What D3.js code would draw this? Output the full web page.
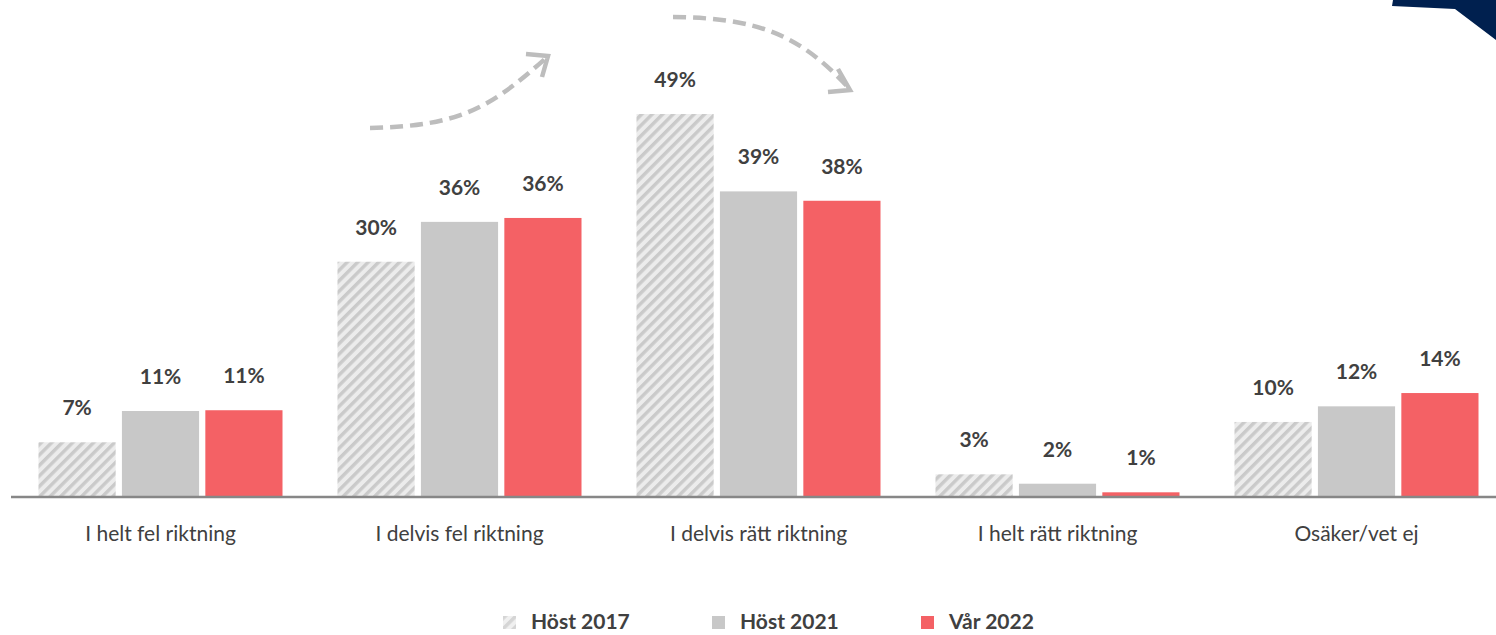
<!DOCTYPE html>
<html lang="sv">
<head>
    <meta charset="UTF-8">
    <title>Riktning</title>
    <script src="https://d3js.org/d3.v7.min.js"></script>
    <style>
        body { margin: 0; background: white; }
    </style>
</head>
<body>
<svg id="main" width="1496" height="635"></svg>
<script>
    // data
    let categories = ["I helt fel riktning", "I delvis fel riktning", "I delvis rätt riktning", "I helt rätt riktning", "Osäker/vet ej"];
    let seriesNames = ["Höst 2017", "Höst 2021", "Vår 2022"];
    let host2017 = [7.0, 30.1, 49.0, 2.9, 9.6];
    let host2021 = [11.0, 35.2, 39.1, 1.7, 11.6];
    let var2022 = [11.1, 35.7, 37.9, 0.6, 13.3];
    let labels2017 = ["7%", "30%", "49%", "3%", "10%"];
    let labels2021 = ["11%", "36%", "39%", "2%", "12%"];
    let labels2022 = ["11%", "36%", "38%", "1%", "14%"];

    let svg = d3.select('svg#main');
    let baseY = 497;
    let textCol = "#404040";
    let fills = ["url(#hatch)", "#c8c8c8", "#f46165"];

    // hatch pattern for 2017
    let defs = svg.append('defs');
    let pat = defs.append('pattern')
        .attr('id', 'hatch')
        .attr('patternUnits', 'userSpaceOnUse')
        .attr('width', 7.4).attr('height', 7.4)
        .attr('patternTransform', 'rotate(45)');
    pat.append('rect').attr('width', 7.4).attr('height', 7.4).attr('fill', '#ececec');
    pat.append('rect').attr('width', 3.4).attr('height', 7.4).attr('fill', '#cacaca');

    let series = [
        {name: seriesNames[0], values: host2017, labels: labels2017},
        {name: seriesNames[1], values: host2021, labels: labels2021},
        {name: seriesNames[2], values: var2022, labels: labels2022}
    ];

    let x = d3.scaleBand().domain(categories).range([11, 1506]).padding(0);
    let xSub = d3.scaleBand().domain(seriesNames).range([0, 244]).paddingInner(0.075).paddingOuter(0);
    let groupOff = (x.bandwidth() - 244) / 2;
    let y = d3.scaleLinear().domain([0, 49]).range([baseY, 114]);

    // bars
    let groups = svg.selectAll('g.series')
        .data(series)
        .enter()
        .append('g')
        .attr('class', 'series');

    groups.each(function (s, si) {
        let g = d3.select(this);
        let rows = categories.map(function (c, i) { return {cat: c, v: s.values[i], lab: s.labels[i]}; });
        g.selectAll('rect')
            .data(rows)
            .enter()
            .append('rect')
            .attr('x', function (d) { return x(d.cat) + groupOff + xSub(s.name); })
            .attr('width', xSub.bandwidth())
            .attr('y', function (d) { return y(d.v); })
            .attr('height', function (d) { return baseY - y(d.v); })
            .attr('fill', fills[si]);
        g.selectAll('text')
            .data(rows)
            .enter()
            .append('text')
            .attr('x', function (d) { return x(d.cat) + groupOff + xSub(s.name) + xSub.bandwidth() / 2; })
            .attr('y', function (d) { return y(d.v) - 27; })
            .attr('text-anchor', 'middle')
            .style('font-family', 'Lato, sans-serif')
            .style('font-weight', 'bold')
            .style('font-size', '21px')
            .style('fill', textCol)
            .text(function (d) { return d.lab; });
    });

    // x axis
    let xAxis = svg.append('g')
        .attr('transform', 'translate(0,' + baseY + ')')
        .call(d3.axisBottom(x).tickSize(0).tickPadding(29));
    xAxis.select('.domain').attr('d', 'M11,0H1496').attr('stroke', '#878787').attr('stroke-width', 2.5);
    xAxis.selectAll('text')
        .style('font-family', 'Lato, sans-serif')
        .style('font-size', '21px')
        .style('fill', textCol);

    // legend
    let legend = svg.append('g').attr('transform', 'translate(503,616)');
    let li = legend.selectAll('g')
        .data(seriesNames)
        .enter()
        .append('g')
        .attr('transform', function (d, i) { return 'translate(' + (i * 209) + ',0)'; });
    li.append('rect').attr('width', 13).attr('height', 13)
        .attr('fill', function (d, i) { return fills[i]; })
        .attr('opacity', function (d, i) { return i === 0 ? 0.8 : 1; });
    li.append('text')
        .attr('x', 28).attr('y', 13)
        .style('font-family', 'Lato, sans-serif')
        .style('font-weight', 'bold')
        .style('font-size', '21px')
        .style('fill', textCol)
        .text(function (d) { return d; });

    // dashed trend arrows between the groups
    let c2 = x(categories[1]), c3 = x(categories[2]);
    let ann = svg.append('g')
        .style('fill', 'none')
        .style('stroke', '#bdbdbd')
        .style('stroke-width', 4.5);
    ann.append('path')
        .attr('d', 'M' + (c2 + 60) + ',128 C' + (c2 + 150) + ',126 ' + (c2 + 180) + ',108 ' + (c2 + 236) + ',58')
        .style('stroke-dasharray', '13,7');
    ann.append('path')
        .attr('d', 'M' + (c2 + 216) + ',54 L' + (c2 + 238) + ',56 L' + (c2 + 232) + ',77');
    ann.append('path')
        .attr('d', 'M' + (c3 + 64) + ',17 C' + (c3 + 150) + ',18 ' + (c3 + 190) + ',35 ' + (c3 + 238) + ',86')
        .style('stroke-dasharray', '13,7');
    ann.append('path')
        .attr('d', 'M' + (c3 + 229) + ',69 L' + (c3 + 241) + ',90 L' + (c3 + 219) + ',92');

    // navy corner shape
    svg.append('path')
        .attr('d', 'M1393,0 L1496,0 L1496,40 L1455,9 L1392,6 Z')
        .attr('fill', '#00204f');
</script>
</body>
</html>
